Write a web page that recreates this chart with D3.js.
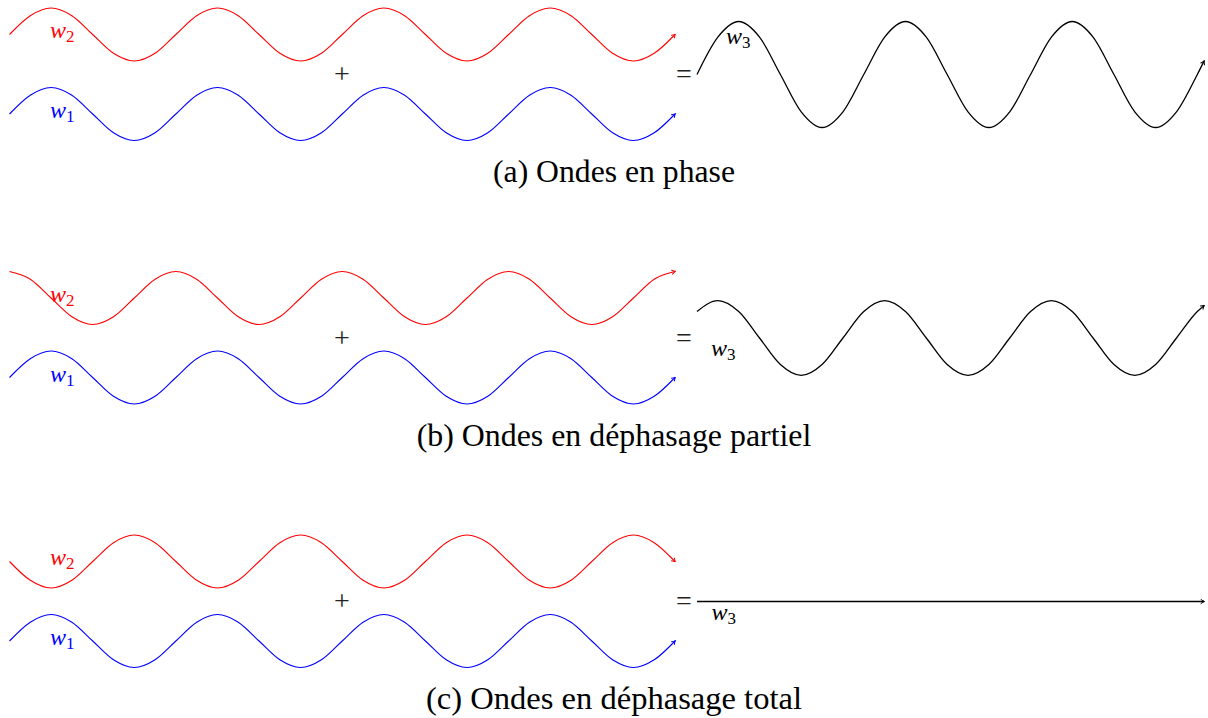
<!DOCTYPE html>
<html>
<head>
<meta charset="utf-8">
<script src="https://d3js.org/d3.v7.min.js"></script>
<style>
    html, body { margin: 0; padding: 0; background: #fff; }
    svg { display: block; }
    .caption { font-family: "Liberation Serif", "DejaVu Serif", serif; font-size: 24px; fill: #000; }
    .label { font-family: "Liberation Serif", "DejaVu Serif", serif; font-style: italic; font-size: 24px; }
    .sub { font-style: normal; font-size: 17px; }
    .op { font-family: "Liberation Serif", "DejaVu Serif", serif; font-size: 28px; fill: #222; }
</style>
</head>
<body>
<svg id="viz" width="1208" height="718"></svg>
<script>
// positions along the waves, in periods (sampled every 1/8 period)
var left_t = [0, 0.125, 0.25, 0.375, 0.5, 0.625, 0.75, 0.875,
    1, 1.125, 1.25, 1.375, 1.5, 1.625, 1.75, 1.875,
    2, 2.125, 2.25, 2.375, 2.5, 2.625, 2.75, 2.875,
    3, 3.125, 3.25, 3.375, 3.5, 3.625, 3.75, 3.875, 4];
var right_t = [0, 0.125, 0.25, 0.375, 0.5, 0.625, 0.75, 0.875,
    1, 1.125, 1.25, 1.375, 1.5, 1.625, 1.75, 1.875,
    2, 2.125, 2.25, 2.375, 2.5, 2.625, 2.75, 2.875, 3, 3.04];

// (a) in phase
var a_w2 = [0, 0.71, 1, 0.71, 0, -0.71, -1, -0.71, 0, 0.71, 1, 0.71, 0, -0.71, -1, -0.71,
    0, 0.71, 1, 0.71, 0, -0.71, -1, -0.71, 0, 0.71, 1, 0.71, 0, -0.71, -1, -0.71, 0];
var a_w1 = [0, 0.71, 1, 0.71, 0, -0.71, -1, -0.71, 0, 0.71, 1, 0.71, 0, -0.71, -1, -0.71,
    0, 0.71, 1, 0.71, 0, -0.71, -1, -0.71, 0, 0.71, 1, 0.71, 0, -0.71, -1, -0.71, 0];
var a_w3 = [0, 1.41, 2, 1.41, 0, -1.41, -2, -1.41, 0, 1.41, 2, 1.41, 0, -1.41, -2, -1.41,
    0, 1.41, 2, 1.41, 0, -1.41, -2, -1.41, 0, 0.5];

// (b) partial phase shift
var b_w2 = [1, 0.71, 0, -0.71, -1, -0.71, 0, 0.71, 1, 0.71, 0, -0.71, -1, -0.71, 0, 0.71,
    1, 0.71, 0, -0.71, -1, -0.71, 0, 0.71, 1, 0.71, 0, -0.71, -1, -0.71, 0, 0.71, 1];
var b_w1 = [0, 0.71, 1, 0.71, 0, -0.71, -1, -0.71, 0, 0.71, 1, 0.71, 0, -0.71, -1, -0.71,
    0, 0.71, 1, 0.71, 0, -0.71, -1, -0.71, 0, 0.71, 1, 0.71, 0, -0.71, -1, -0.71, 0];
var b_w3 = [1, 1.41, 1, 0, -1, -1.41, -1, 0, 1, 1.41, 1, 0, -1, -1.41, -1, 0,
    1, 1.41, 1, 0, -1, -1.41, -1, 0, 1, 1.22];

// (c) total phase shift
var c_w2 = [0, -0.71, -1, -0.71, 0, 0.71, 1, 0.71, 0, -0.71, -1, -0.71, 0, 0.71, 1, 0.71,
    0, -0.71, -1, -0.71, 0, 0.71, 1, 0.71, 0, -0.71, -1, -0.71, 0, 0.71, 1, 0.71, 0];
var c_w1 = [0, 0.71, 1, 0.71, 0, -0.71, -1, -0.71, 0, 0.71, 1, 0.71, 0, -0.71, -1, -0.71,
    0, 0.71, 1, 0.71, 0, -0.71, -1, -0.71, 0, 0.71, 1, 0.71, 0, -0.71, -1, -0.71, 0];
var c_w3 = [0, 0, 0, 0, 0, 0, 0, 0, 0, 0, 0, 0, 0, 0, 0, 0,
    0, 0, 0, 0, 0, 0, 0, 0, 0, 0];

var captions = ["(a) Ondes en phase", "(b) Ondes en déphasage partiel", "(c) Ondes en déphasage total"];
var wave_names = ["w", "1", "2", "3"];

var panels = [
    {w1: a_w1, w2: a_w2, w3: a_w3, caption: captions[0]},
    {w1: b_w1, w2: b_w2, w3: b_w3, caption: captions[1]},
    {w1: c_w1, w2: c_w2, w3: c_w3, caption: captions[2]}
];

// layout
var panel_step = 263.5;
var w3_label_pos = [[726, 44], [711, 92], [711.5, 92.5]];
var caption_width = [242, 395, 376];

var svg = d3.select("#viz");

var x_left = d3.scaleLinear().domain([0, 4]).range([9.5, 675]);
var x_right = d3.scaleLinear().domain([0, 3.04]).range([697, 1204]);
var y_unit = d3.scaleLinear().domain([-1, 1]).range([26.5, -26.5]);

make_markers(svg, {red: "#ff0000", blue: "#0000ff", black: "#000000"});

panels.forEach(function (panel, i) {
    var g = svg.append("g").attr("transform", "translate(0," + (i * panel_step) + ")");

    draw_wave(g, left_t, panel.w2, x_left, 34.5, "#ff0000", "red", 1.1);
    draw_wave(g, left_t, panel.w1, x_left, 114, "#0000ff", "blue", 1.1);
    draw_wave(g, right_t, panel.w3, x_right, 74.5, "#000000", "black", 1.3);

    add_label(g, 50, 38, "2", "#ff0000");
    add_label(g, 50, 118, "1", "#0000ff");
    add_label(g, w3_label_pos[i][0], w3_label_pos[i][1], "3", "#000");

    g.append("text").attr("class", "op")
        .attr("x", 342).attr("y", 83).attr("text-anchor", "middle").text("+");
    g.append("text").attr("class", "op")
        .attr("x", 684).attr("y", 83).attr("text-anchor", "middle").text("=");

    var cap = g.append("text").attr("class", "caption")
        .attr("x", 614).attr("y", 182).attr("text-anchor", "middle")
        .text(panel.caption);
    // fit the caption to the width it has in the figure
    var len = cap.node().getComputedTextLength();
    cap.style("font-size", (24 * caption_width[i] / len) + "px");
});


function draw_wave(g, t_values, y_values, x_scale, mid, color, marker, width) {
    var points = t_values.map(function (t, k) { return [t, y_values[k]]; });
    var line = d3.line()
        .x(function (d) { return x_scale(d[0]); })
        .y(function (d) { return mid + y_unit(d[1]); })
        .curve(d3.curveMonotoneX);

    g.append("path")
        .attr("d", line(points))
        .attr("fill", "none")
        .attr("stroke", color)
        .attr("stroke-width", width)
        .attr("marker-end", "url(#tip-" + marker + ")");
}


function add_label(g, x, y, index, color) {
    var text = g.append("text").attr("class", "label")
        .attr("x", x).attr("y", y).attr("fill", color);
    text.append("tspan").text(wave_names[0]);
    text.append("tspan").attr("class", "sub").attr("dy", 4).text(index);
}


function make_markers(svg, colors) {
    var defs = svg.append("defs");
    Object.keys(colors).forEach(function (name) {
        defs.append("marker")
            .attr("id", "tip-" + name)
            .attr("viewBox", "-5 -3 6 6")
            .attr("refX", 0).attr("refY", 0)
            .attr("markerWidth", 6).attr("markerHeight", 6)
            .attr("markerUnits", "userSpaceOnUse")
            .attr("orient", "auto")
            .append("path")
            .attr("d", "M-3,-2 Q-1,-0.5 0.6,0 Q-1,0.5 -3,2")
            .attr("fill", "none")
            .attr("stroke", colors[name])
            .attr("stroke-width", 1)
            .attr("stroke-linecap", "round");
    });
}
</script>
</body>
</html>
